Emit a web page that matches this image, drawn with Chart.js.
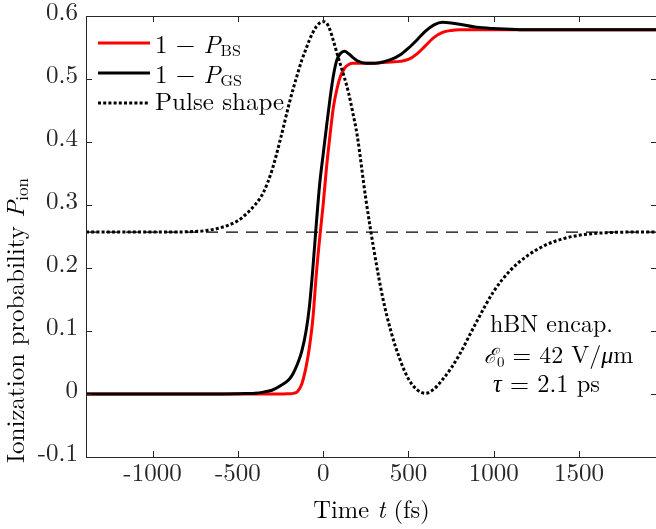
<!DOCTYPE html>
<html>
<head>
<meta charset="utf-8">
<script src="https://cdn.jsdelivr.net/npm/chart.js@4.4.0/dist/chart.umd.min.js"></script>
<style>
  html, body { margin: 0; padding: 0; overflow: hidden; background: #fff; }
  #wrap { position: relative; width: 656px; height: 529px; overflow: hidden; }
  #plot { position: absolute; left: 0; top: 0; }
  #labels { position: absolute; left: 0; top: 0; }
  #labels text { font-family: "Latin Modern Roman", "Liberation Serif", serif; fill: #000; white-space: pre; }
  #labels .cal { font-family: "DejaVu Serif", serif; }
</style>
</head>
<body>
<div id="wrap">
  <canvas id="plot" width="660" height="529"></canvas>
  <svg id="labels" width="656" height="529">
    <!-- legend -->
    <line x1="98" y1="43" x2="150" y2="43" stroke="#ff0000" stroke-width="3"/>
    <line x1="98" y1="73" x2="150" y2="73" stroke="#000" stroke-width="3"/>
    <line x1="98" y1="103" x2="150" y2="103" stroke="#000" stroke-width="3" stroke-dasharray="3 2.2"/>
    <text x="155" y="53" font-size="25">1 − <tspan font-style="italic">P</tspan><tspan font-size="16" dy="3">BS</tspan></text>
    <text x="155" y="83" font-size="25">1 − <tspan font-style="italic">P</tspan><tspan font-size="16" dy="3">GS</tspan></text>
    <text x="155" y="110" font-size="25">Pulse shape</text>
    <!-- annotation -->
    <text x="490" y="332" font-size="24">hBN encap.</text>
    <text x="484" y="363" font-size="24"><tspan class="cal" font-style="italic" font-size="21">ℰ</tspan><tspan font-size="15" dy="4">0</tspan><tspan dy="-4"> = 42 V/</tspan><tspan font-style="italic">μ</tspan>m</text>
    <text x="493" y="392" font-size="24.5"><tspan font-style="italic">τ</tspan> = 2.1 ps</text>
    <!-- axis titles -->
    <text x="371.5" y="518" font-size="24.5" text-anchor="middle">Time <tspan font-style="italic">t</tspan> (fs)</text>
    <text transform="translate(24,463) rotate(-90)" font-size="25">Ionization probability <tspan font-style="italic">P</tspan><tspan font-size="17" dy="4">ion</tspan></text>
  </svg>
</div>
<script>
// time axis (fs), shared by all curves
const timeFs = [-1390, -1200, -1000, -900, -800, -700, -600, -500, -450, -400,
  -350, -300, -250, -200, -175, -150, -125, -100, -80, -60,
  -40, -20, 0, 20, 40, 60, 80, 100, 125, 150,
  175, 200, 250, 300, 350, 400, 450, 500, 550, 600,
  650, 700, 750, 800, 900, 1000, 1100, 1200, 1300, 1400,
  1500, 1600, 1700, 1800, 1957];

// 1 - P_BS (red)
const ionBS = [0, 0, 0, 0, 0, 0, 0, 0, 0, 0,
  0, 0, 0, 0.0005, 0.001, 0.004, 0.016, 0.043, 0.075, 0.12,
  0.19, 0.248, 0.30, 0.36, 0.41, 0.455, 0.483, 0.503, 0.517, 0.523,
  0.525, 0.525, 0.525, 0.525, 0.526, 0.527, 0.528, 0.531, 0.54, 0.553,
  0.566, 0.574, 0.577, 0.578, 0.578, 0.578, 0.578, 0.578, 0.578, 0.578,
  0.578, 0.578, 0.578, 0.578, 0.578];

// 1 - P_GS (black)
const ionGS = [0, 0, 0, 0, 0, 0, 0.0001, 0.0003, 0.0006, 0.0012,
  0.003, 0.006, 0.013, 0.023, 0.033, 0.048, 0.068, 0.10, 0.14, 0.20,
  0.27, 0.334, 0.38, 0.425, 0.468, 0.505, 0.53, 0.54, 0.544, 0.54,
  0.534, 0.529, 0.525, 0.525, 0.527, 0.531, 0.538, 0.549, 0.562, 0.576,
  0.586, 0.590, 0.589, 0.587, 0.582, 0.580, 0.579, 0.578, 0.578, 0.578,
  0.578, 0.578, 0.578, 0.578, 0.578];

// pulse shape (dotted, arbitrary units on the same axis)
const pulseShape = [0.257, 0.257, 0.257, 0.257, 0.2575, 0.259, 0.264, 0.275, 0.286, 0.30,
  0.32, 0.355, 0.405, 0.46, 0.485, 0.508, 0.53, 0.548, 0.562, 0.574,
  0.583, 0.589, 0.591, 0.589, 0.578, 0.561, 0.542, 0.524, 0.502, 0.477,
  0.445, 0.41, 0.31, 0.225, 0.152, 0.097, 0.055, 0.024, 0.007, 0.001,
  0.008, 0.023, 0.041, 0.063, 0.115, 0.163, 0.197, 0.22, 0.236, 0.246,
  0.252, 0.255, 0.2565, 0.257, 0.257];

const baselineLevel = 0.257;
const xMin = -1390, xMax = 1957;
const yMin = -0.1, yMax = 0.6;

const xTickValues = [-1000, -500, 0, 500, 1000, 1500];
const xTickLabels = ['-1000', '-500', '0', '500', '1000', '1500'];
const yTickValues = [-0.1, 0, 0.1, 0.2, 0.3, 0.4, 0.5, 0.6];
const yTickLabels = ['-0.1', '0', '0.1', '0.2', '0.3', '0.4', '0.5', '0.6'];

const toPoints = ys => timeFs.map((t, i) => ({ x: t, y: ys[i] }));
const axisColor = '#262626';
const serif = '"Latin Modern Roman", "Liberation Serif", serif';

// box + inward ticks, matlab style
const axesBox = {
  id: 'axesBox',
  afterDatasetsDraw(chart) {
    const { ctx, chartArea: a, scales: { x, y } } = chart;
    const len = 6;
    ctx.save();
    ctx.strokeStyle = axisColor;
    ctx.lineWidth = 1;
    ctx.beginPath();
    ctx.rect(a.left + 0.5, a.top + 0.5, a.right - a.left, a.bottom - a.top);
    xTickValues.forEach(v => {
      const px = Math.round(x.getPixelForValue(v)) + 0.5;
      ctx.moveTo(px, a.bottom); ctx.lineTo(px, a.bottom - len);
      ctx.moveTo(px, a.top); ctx.lineTo(px, a.top + len);
    });
    yTickValues.forEach(v => {
      const py = Math.round(y.getPixelForValue(v)) + 0.5;
      ctx.moveTo(a.left, py); ctx.lineTo(a.left + len, py);
      ctx.moveTo(a.right, py); ctx.lineTo(a.right - len, py);
    });
    ctx.stroke();
    ctx.restore();
  }
};

function drawChart() {
  new Chart(document.getElementById('plot'), {
    type: 'line',
    data: {
      datasets: [
        {
          label: 'Pulse shape', data: toPoints(pulseShape), order: 0,
          borderColor: '#000', borderWidth: 3, borderDash: [3, 2.2], borderCapStyle: 'butt'
        },
        {
          label: '1 - P_GS', data: toPoints(ionGS), order: 1,
          borderColor: '#000', borderWidth: 3
        },
        {
          label: '1 - P_BS', data: toPoints(ionBS), order: 2,
          borderColor: '#ff0000', borderWidth: 3
        },
        {
          label: 'baseline', order: 3,
          data: [{ x: xMin, y: baselineLevel }, { x: xMax, y: baselineLevel }],
          borderColor: '#000', borderWidth: 1.3, borderDash: [12, 8]
        }
      ]
    },
    options: {
      responsive: false,
      animation: false,
      parsing: false,
      elements: {
        point: { radius: 0 },
        line: { cubicInterpolationMode: 'monotone', fill: false }
      },
      layout: { padding: { top: 14, right: 3, left: 0, bottom: 0 } },
      plugins: { legend: { display: false }, tooltip: { enabled: false } },
      scales: {
        x: {
          type: 'linear', min: xMin, max: xMax,
          afterBuildTicks: s => { s.ticks = xTickValues.map(v => ({ value: v })); },
          afterFit: s => { s.height = 72; },
          ticks: {
            color: axisColor, font: { family: serif, size: 25, lineHeight: '20px' }, padding: 6, maxRotation: 0, autoSkip: false,
            callback: (v, i) => xTickLabels[i]
          },
          grid: { display: false, drawTicks: false },
          border: { display: false }
        },
        y: {
          type: 'linear', min: yMin, max: yMax,
          afterBuildTicks: s => { s.ticks = yTickValues.map(v => ({ value: v })); },
          afterFit: s => { s.width = 86; },
          ticks: {
            // empty second line lifts the glyphs a few px so they sit on the tick
            color: axisColor, font: { family: serif, size: 25, lineHeight: '8px' }, padding: 8, autoSkip: false,
            callback: (v, i) => [yTickLabels[i], '']
          },
          grid: { display: false, drawTicks: false },
          border: { display: false }
        }
      }
    },
    plugins: [axesBox]
  });
}

// make sure the serif face is ready before the canvas text is drawn
document.fonts.load('25px "Latin Modern Roman"').then(drawChart, drawChart);
</script>
</body>
</html>
